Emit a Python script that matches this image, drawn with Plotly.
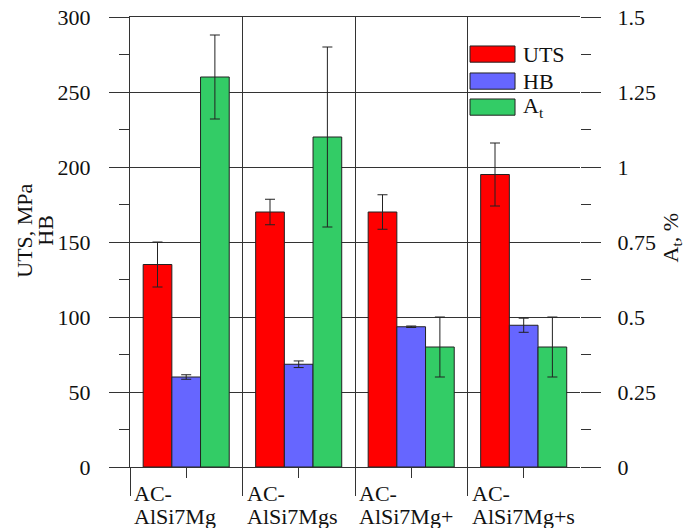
import plotly.graph_objects as go

# ---- data ----
categories = [0, 1, 2, 3]
label_line1 = ["AC-", "AC-", "AC-", "AC-"]
label_line2 = ["AlSi7Mg", "AlSi7Mgs", "AlSi7Mg+", "AlSi7Mg+s"]
uts = [135, 170, 170, 195]
uts_err = [15, 8.5, 11.5, 21]
hb = [60, 68.5, 93.5, 94.5]
hb_err = [1.5, 2.2, 0.5, 4.7]
at = [1.3, 1.1, 0.4, 0.4]
at_err = [0.14, 0.3, 0.1, 0.1]
y_ticks = [0, 50, 100, 150, 200, 250, 300]
y2_ticks = [0, 0.25, 0.5, 0.75, 1, 1.25, 1.5]
y2_ticktext = ["0", "0.25", "0.5", "0.75", "1", "1.25", "1.5"]
legend_names = ["UTS", "HB", "A<sub>t</sub>"]

RED = "#FF0000"
BLUE = "#6666FF"
GREEN = "#33CC66"
LINE = "#333333"
FONT = "Liberation Serif"
FS = 22

bw = 0.255
offs = [-0.383, -0.128, 0.127]

fig = go.Figure()
err_style = dict(type="data", color="#222222", thickness=1, width=5)
fig.add_trace(go.Bar(x=categories, y=uts, width=bw, offset=offs[0],
                     marker=dict(color=RED, line=dict(color="#222222", width=1)),
                     error_y=dict(array=uts_err, **err_style), name="UTS", yaxis="y"))
fig.add_trace(go.Bar(x=categories, y=hb, width=bw, offset=offs[1],
                     marker=dict(color=BLUE, line=dict(color="#222222", width=1)),
                     error_y=dict(array=hb_err, **err_style), name="HB", yaxis="y"))
fig.add_trace(go.Bar(x=categories, y=at, width=bw, offset=offs[2],
                     marker=dict(color=GREEN, line=dict(color="#222222", width=1)),
                     error_y=dict(array=at_err, **err_style), name="At", yaxis="y2"))

fig.update_layout(
    width=686, height=520,
    margin=dict(l=122, r=114, t=9, b=61, autoexpand=False),
    paper_bgcolor="white", plot_bgcolor="white",
    barmode="overlay", showlegend=False,
    font=dict(family=FONT, size=FS, color="#111111"),
    xaxis=dict(range=[-0.5, 3.5], tickmode="array", tickvals=[-0.5, 0.5, 1.5, 2.5],
               ticktext=["", "", "", ""], ticks="outside", ticklen=28, tickcolor=LINE,
               tickwidth=1, showgrid=True, gridcolor=LINE, gridwidth=1, automargin=False,
               showline=True, linecolor=LINE, linewidth=1, mirror=True, zeroline=False,
               minor=dict(tickmode="array", tickvals=[0, 1, 2, 3], ticks="outside",
                          ticklen=10, tickcolor=LINE, tickwidth=1, showgrid=False)),
    yaxis=dict(range=[0, 300], tickmode="array", tickvals=y_ticks, ticks="outside",
               ticklen=20, tickcolor=LINE, tickwidth=1, showgrid=True, gridcolor=LINE,
               gridwidth=1, showline=True, linecolor=LINE, linewidth=1, zeroline=False,
               ticklabelstandoff=14, automargin=False, ticklabeloverflow="allow",
               minor=dict(tickmode="array", tickvals=[25, 75, 125, 175, 225, 275],
                          ticks="outside", ticklen=10, tickcolor=LINE, tickwidth=1,
                          showgrid=False)),
    yaxis2=dict(range=[0, 1.5], overlaying="y", side="right", tickmode="array",
                tickvals=y2_ticks, ticktext=y2_ticktext, ticks="outside", ticklen=20,
                tickcolor=LINE, tickwidth=1, showgrid=False, showline=False,
                zeroline=False, ticklabelstandoff=12, automargin=False,
                ticklabeloverflow="allow",
                minor=dict(tickmode="array", tickvals=[0.125, 0.375, 0.625, 0.875, 1.125, 1.375],
                           ticks="outside", ticklen=10, tickcolor=LINE, tickwidth=1,
                           showgrid=False)),
)

annotations = []
for c, l1, l2 in zip(categories, label_line1, label_line2):
    annotations.append(dict(x=c - 0.5, y=0, xref="x", yref="y", text=l1, showarrow=False,
                            xanchor="left", yanchor="middle", xshift=2, yshift=-26,
                            font=dict(family=FONT, size=FS)))
    annotations.append(dict(x=c - 0.5, y=0, xref="x", yref="y", text=l2, showarrow=False,
                            xanchor="left", yanchor="middle", xshift=2, yshift=-49,
                            font=dict(family=FONT, size=FS)))

# axis titles
annotations.append(dict(x=0, y=0.525, xref="paper", yref="paper", xshift=-105,
                        text="UTS, MPa", textangle=-90, showarrow=False,
                        xanchor="center", yanchor="middle", font=dict(family=FONT, size=FS)))
annotations.append(dict(x=0, y=0.525, xref="paper", yref="paper", xshift=-84,
                        text="HB", textangle=-90, showarrow=False,
                        xanchor="center", yanchor="middle", font=dict(family=FONT, size=FS)))
annotations.append(dict(x=1, y=0.51, xref="paper", yref="paper", xshift=91,
                        text="A<sub>t</sub>, %", textangle=-90, showarrow=False,
                        xanchor="center", yanchor="middle", font=dict(family=FONT, size=FS)))

# legend (manual)
shapes = []
leg_colors = [RED, BLUE, GREEN]
leg_top = [0.9356, 0.8756, 0.8178]
for name, col, top in zip(legend_names, leg_colors, leg_top):
    shapes.append(dict(type="rect", xref="paper", yref="paper", x0=0.7556, x1=0.8556,
                       y0=top - 0.036, y1=top, fillcolor=col,
                       line=dict(color="#222222", width=1)))
    annotations.append(dict(x=0.869, y=top - 0.018, xref="paper", yref="paper", text=name,
                            showarrow=False, xanchor="left", yanchor="middle",
                            font=dict(family=FONT, size=FS)))

fig.update_layout(annotations=annotations, shapes=shapes)
fig.write_html("out.html")
